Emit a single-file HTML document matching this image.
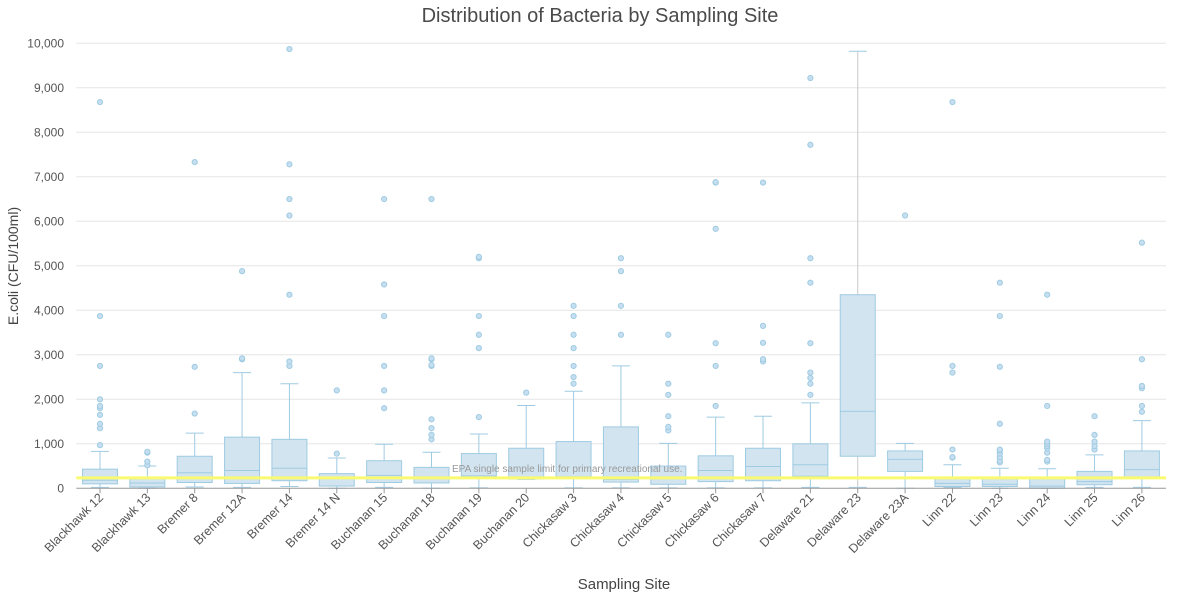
<!DOCTYPE html>
<html><head><meta charset="utf-8"><style>
body{margin:0;background:#fff;font-family:"Liberation Sans",sans-serif}
svg text{font-family:"Liberation Sans",sans-serif}
</style></head><body>
<svg id="c" width="1200" height="593" xmlns="http://www.w3.org/2000/svg"></svg>
<script>
const s=document.getElementById('c');
const X0=76.3,W=47.36,Y0=488.3,K=0.0445;
const y=v=>Y0-v*K, cx=i=>X0+W*(i+0.5);
let h='';
h+='<text x="600" y="22" text-anchor="middle" font-size="20" fill="#4a4a4a">Distribution of Bacteria by Sampling Site</text>';
for(let v=0;v<=10000;v+=1000){
  if(v>0)h+=`<line x1="${X0}" x2="1166" y1="${y(v)}" y2="${y(v)}" stroke="#e6e6e6"/>`;
  h+=`<text x="64" y="${y(v)+4}" text-anchor="end" font-size="12" fill="#555">${v.toLocaleString('en-US')}</text>`;
}
h+=`<text transform="translate(18,266) rotate(-90)" text-anchor="middle" font-size="14" fill="#444">E.coli (CFU/100ml)</text>`;
h+=`<text x="624" y="589" text-anchor="middle" font-size="15" fill="#444">Sampling Site</text>`;
const D=[
["Blackhawk 12",20,100,180,430,830,[970,1350,1450,1650,1800,1850,2000,2750,3870,8680]],
["Blackhawk 13",0,30,120,220,500,[520,600,800,820]],
["Bremer 8",30,130,350,720,1240,[1680,2730,7330]],
["Bremer 12A",20,110,400,1150,2600,[2900,2920,4880]],
["Bremer 14",40,170,450,1100,2350,[2750,2850,4350,6130,6500,7280,9870]],
["Bremer 14 N",0,50,250,330,680,[780,2200]],
["Buchanan 15",20,130,290,620,990,[1800,2200,2750,3870,4580,6500]],
["Buchanan 18",0,120,250,470,810,[1100,1200,1350,1550,2750,2770,2900,2920,6500]],
["Buchanan 19",10,250,280,780,1220,[1600,3150,3450,3870,5170,5200]],
["Buchanan 20",200,210,250,900,1860,[2150]],
["Chickasaw 3",10,240,260,1050,2180,[2350,2500,2750,3150,3450,3870,4100]],
["Chickasaw 4",10,140,200,1380,2750,[3450,4100,4880,5170]],
["Chickasaw 5",10,90,230,500,1010,[1300,1380,1620,2100,2350,3450]],
["Chickasaw 6",10,150,400,730,1600,[1850,2750,3260,5830,6870,6880]],
["Chickasaw 7",10,170,490,900,1620,[2850,2900,3270,3650,6870]],
["Delaware 21",20,270,530,1000,1920,[2100,2350,2480,2600,3260,4620,5170,7720,9220]],
["Delaware 23",20,720,1730,4350,9820,[]],
["Delaware 23A",0,380,650,840,1010,[6130]],
["Linn 22",20,40,110,250,530,[690,700,870,2600,2750,8680]],
["Linn 23",0,40,90,230,450,[580,620,700,780,850,870,1450,2730,3870,4620]],
["Linn 24",0,0,50,220,440,[600,640,800,900,950,1000,1050,1850,4350]],
["Linn 25",20,80,150,380,750,[870,950,1050,1200,1620]],
["Linn 26",20,250,420,840,1520,[1720,1850,2250,2300,2900,5520]]];
const st='#9fcbe2';
D.forEach((d,i)=>{
  const c=cx(i),bw=17.5,ww=9;
  if(i==16){h+=`<line x1="${c}" x2="${c}" y1="${y(d[5])}" y2="${y(d[4])}" stroke="#c8c8c8"/><line x1="${c}" x2="${c}" y1="${y(d[2])}" y2="${y(d[1])}" stroke="#c8c8c8"/>`;}
  else{h+=`<line x1="${c}" x2="${c}" y1="${y(d[5])}" y2="${y(d[1])}" stroke="${st}"/>`;}
  h+=`<line x1="${c-ww}" x2="${c+ww}" y1="${y(d[5])}" y2="${y(d[5])}" stroke="${st}"/>`;
  h+=`<line x1="${c-ww}" x2="${c+ww}" y1="${y(d[1])}" y2="${y(d[1])}" stroke="${st}"/>`;
  h+=`<rect x="${c-bw}" y="${y(d[4])}" width="${2*bw}" height="${Math.max(1,y(d[2])-y(d[4]))}" fill="#d1e4f0" stroke="${st}"/>`;
  h+=`<line x1="${c-bw}" x2="${c+bw}" y1="${y(d[3])}" y2="${y(d[3])}" stroke="${st}"/>`;
  d[6].forEach(o=>h+=`<circle cx="${c}" cy="${y(o)}" r="2.6" fill="#c6dff0" stroke="${st}"/>`);
  h+=`<line x1="${c}" x2="${c}" y1="${Y0}" y2="${Y0+5}" stroke="#999"/>`;
  h+=`<text transform="translate(${c+4},${Y0+10}) rotate(-45)" text-anchor="end" font-size="12.5" fill="#555">${d[0]}</text>`;
});
h+=`<line x1="${X0}" x2="1166" y1="${Y0}" y2="${Y0}" stroke="#999"/>`;
h+=`<line x1="${X0}" x2="1166" y1="${y(235)}" y2="${y(235)}" stroke="#fafa70" stroke-width="3"/>`;
h+=`<text x="452" y="472" font-size="10" fill="#999">EPA single sample limit for primary recreational use.</text>`;
s.innerHTML=h;
</script>
</body></html>
